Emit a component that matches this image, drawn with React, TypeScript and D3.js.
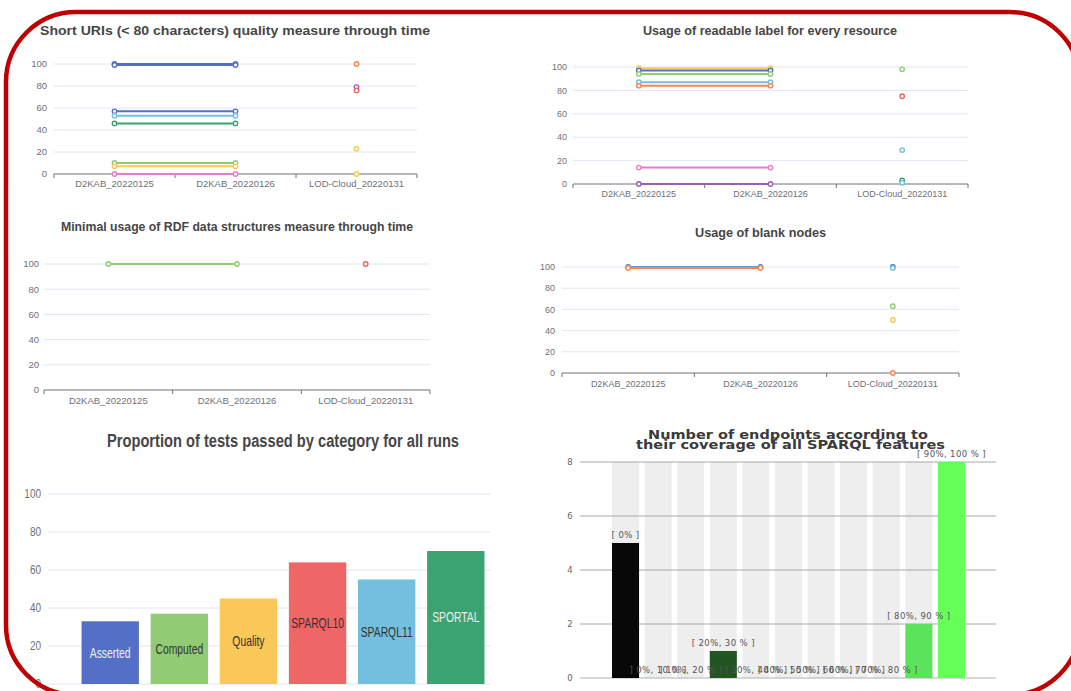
import React from 'react';
import * as d3 from 'd3';

const PALETTE = ['#5470c6', '#91cc75', '#fac858', '#ee6666', '#73c0de', '#3ba272', '#fc8452', '#9a60b4', '#ea7ccc'];

const runs = ['D2KAB_20220125', 'D2KAB_20220126', 'LOD-Cloud_20220131'];
const percentTicks = [0, 20, 40, 60, 80, 100];

// Panel 1: Short URIs
const shortUriValues: (number | null)[][] = [
  [100, 100, null], [99, 99, null], [57, 57, null], [53, 53, null], [46, 46, null],
  [10, 10, null], [7, 7, null], [0, 0, null],
  [null, null, 100], [null, null, 79], [null, null, 76], [null, null, 23], [null, null, 0],
];
const shortUriColors = [0, 0, 0, 4, 5, 1, 2, 8, 6, 7, 3, 2, 2];

// Panel 2: readable labels
const labelValues: (number | null)[][] = [
  [99, 99, null], [97, 97, null], [94, 94, null], [87, 87, null], [84, 84, null],
  [14, 14, null], [0, 0, null],
  [null, null, 98], [null, null, 75], [null, null, 29], [null, null, 3], [null, null, 1],
];
const labelColors = [2, 0, 1, 4, 6, 8, 7, 1, 3, 4, 5, 4];

// Panel 3: RDF data structures
const rdfValues: (number | null)[][] = [[100, 100, null], [null, null, 100]];
const rdfColors = [1, 3];

// Panel 4: blank nodes
const blankValues: (number | null)[][] = [
  [100, 100, null], [99.5, 99.5, null], [99, 99, null],
  [null, null, 100], [null, null, 99], [null, null, 63], [null, null, 50], [null, null, 0],
];
const blankColors = [0, 4, 6, 0, 4, 1, 2, 6];

// Panel 5: tests by category
const categories = ['Asserted', 'Computed', 'Quality', 'SPARQL10', 'SPARQL11', 'SPORTAL'];
const categoryValues = [33, 37, 45, 64, 55, 70];
const categoryLabelColors = ['#eeeeee', '#333333', '#333333', '#333333', '#333333', '#eeeeee'];

// Panel 6: coverage
const coverageBins = ['[ 0% ]', '] 0%, 10 % ]', '] 10%, 20 % ]', '[ 20%, 30 % ]', '] 30%, 40 % ]', '] 40%, 50 % ]',
  '] 50%, 60 % ]', '] 60%, 70 % ]', '] 70%, 80 % ]', '[ 80%, 90 % ]', '[ 90%, 100 % ]'];
const coverageCounts = [5, 0, 0, 1, 0, 0, 0, 0, 0, 2, 8];
const coverageColors = ['#080808', '#0e1a0e', '#183418', '#225522', '#2a6a2a', '#328032', '#3a963a', '#42ac42', '#4ac24a', '#5be35b', '#66ff5a'];
const coverageTicks = [0, 2, 4, 6, 8];

type Layout = {
  x0: number; x1: number; yTop: number; yBottom: number;
  titleX: number; titleY: number; titleSize: number; titleLen: number;
  yLabelX: number; xLabelY: number; yFont: number; xFont: number;
};

function LineChart({ title, layout, values, colors }: { title: string; layout: Layout; values: (number | null)[][]; colors: number[] }) {
  const L = layout;
  const x = d3.scaleBand<string>().domain(runs).range([L.x0, L.x1]);
  const y = d3.scaleLinear().domain([0, 100]).range([L.yBottom, L.yTop]);
  const cx = (i: number) => (x(runs[i]) as number) + x.bandwidth() / 2;
  const line = d3.line<number | null>()
    .defined(d => d != null)
    .x((_d, i) => cx(i))
    .y(d => y(d as number));
  const tickXs = [...runs.map(r => x(r) as number), L.x1];
  return (
    <g>
      <text x={L.titleX} y={L.titleY} textAnchor="middle" fontWeight="bold" fontSize={L.titleSize} fill="#464646"
        textLength={L.titleLen} lengthAdjust="spacingAndGlyphs">{title}</text>
      {percentTicks.map(t => (
        <g key={t}>
          {t > 0 && <line x1={L.x0} x2={L.x1} y1={y(t)} y2={y(t)} stroke="#e0e6f1" strokeWidth={1} />}
          <text x={L.yLabelX} y={y(t)} dy="0.35em" textAnchor="end" fontSize={L.yFont} fill="#6e7079">{t}</text>
        </g>
      ))}
      <line x1={L.x0} x2={L.x1} y1={L.yBottom} y2={L.yBottom} stroke="#6e7079" strokeWidth={1} />
      {tickXs.map((tx, i) => (
        <line key={i} x1={tx} x2={tx} y1={L.yBottom} y2={L.yBottom + 4} stroke="#6e7079" strokeWidth={1} />
      ))}
      {runs.map((r, i) => (
        <text key={r} x={cx(i)} y={L.xLabelY} textAnchor="middle" fontSize={L.xFont} fill="#6e7079">{r}</text>
      ))}
      {values.map((v, si) => (
        <path key={'l' + si} d={line(v) || ''} fill="none" stroke={PALETTE[colors[si]]} strokeWidth={2} />
      ))}
      {values.map((v, si) => v.map((d, i) => d == null ? null : (
        <circle key={'c' + si + '_' + i} cx={cx(i)} cy={y(d)} r={2.2} fill="#fff" stroke={PALETTE[colors[si]]} strokeWidth={1.4} />
      )))}
    </g>
  );
}

function CategoryBars() {
  const y = d3.scaleLinear().domain([0, 100]).range([684, 494]);
  const x = d3.scaleBand<string>().domain(categories).range([76, 490]).paddingInner(0.17).paddingOuter(0.08);
  return (
    <g>
      <text x={283} y={447} textAnchor="middle" fontWeight="bold" fontSize={18} fill="#464646"
        textLength={352} lengthAdjust="spacingAndGlyphs">Proportion of tests passed by category for all runs</text>
      {percentTicks.map(t => (
        <g key={t}>
          <line x1={48} x2={490} y1={y(t)} y2={y(t)} stroke="#e0e6f1" strokeWidth={1} />
          <text transform={`translate(41,${y(t)}) scale(0.8,1)`} dy="0.35em" textAnchor="end" fontSize={12.5} fill="#6e7079">{t}</text>
        </g>
      ))}
      {categories.map((c, i) => (
        <g key={c}>
          <rect x={x(c)} y={y(categoryValues[i])} width={x.bandwidth()} height={y(0) - y(categoryValues[i])} fill={PALETTE[i]} />
          <text transform={`translate(${(x(c) as number) + x.bandwidth() / 2},${(y(categoryValues[i]) + y(0)) / 2}) scale(0.74,1)`}
            dy="0.35em" textAnchor="middle" fontSize={14} fill={categoryLabelColors[i]}>{c}</text>
        </g>
      ))}
    </g>
  );
}

function CoverageBars() {
  const y = d3.scaleLinear().domain([0, 8]).range([678, 462]);
  const x = d3.scaleBand<string>().domain(coverageBins).range([612, 965]).paddingInner(0.17).paddingOuter(0);
  return (
    <g fontFamily="'DejaVu Sans', sans-serif">
      <text x={788} y={439} textAnchor="middle" fontWeight="bold" fontSize={12.5} fill="#3a3a3a"
        textLength={280} lengthAdjust="spacingAndGlyphs">Number of endpoints according to</text>
      <text x={790.5} y={449} textAnchor="middle" fontWeight="bold" fontSize={12.5} fill="#3a3a3a"
        textLength={309} lengthAdjust="spacingAndGlyphs">their coverage of all SPARQL features</text>
      {coverageBins.map(b => (
        <rect key={'bg' + b} x={x(b)} y={y(8)} width={x.bandwidth()} height={y(0) - y(8)} fill="#eeeeee" />
      ))}
      {coverageTicks.map(t => (
        <g key={t}>
          <line x1={580} x2={996} y1={y(t)} y2={y(t)} stroke={t === 0 ? '#b0b0b0' : '#a8a8a8'} strokeWidth={1} />
          <text x={570} y={y(t)} dy="0.35em" textAnchor="middle" fontSize={8.5} fill="#666">{t}</text>
        </g>
      ))}
      {coverageBins.map((b, i) => (
        <rect key={'b' + b} x={x(b)} y={y(coverageCounts[i])} width={x.bandwidth()} height={y(0) - y(coverageCounts[i])} fill={coverageColors[i]} />
      ))}
      {coverageBins.map((b, i) => (
        <text key={'t' + b} x={(x(b) as number) + x.bandwidth() / 2} y={y(coverageCounts[i]) - 5} textAnchor="middle"
          fontSize={8.5} fill="#555" letterSpacing={0.4}>{b}</text>
      ))}
    </g>
  );
}

const layout1: Layout = { x0: 54, x1: 417, yTop: 64, yBottom: 174, titleX: 235, titleY: 35, titleSize: 13, titleLen: 390, yLabelX: 47, xLabelY: 187, yFont: 9.5, xFont: 9.5 };
const layout2: Layout = { x0: 573, x1: 968, yTop: 67, yBottom: 184, titleX: 770, titleY: 35, titleSize: 13, titleLen: 254, yLabelX: 567, xLabelY: 197, yFont: 9, xFont: 9 };
const layout3: Layout = { x0: 44, x1: 430, yTop: 264, yBottom: 390, titleX: 237, titleY: 231, titleSize: 13.5, titleLen: 352, yLabelX: 39, xLabelY: 404, yFont: 9.5, xFont: 9.5 };
const layout4: Layout = { x0: 562, x1: 959, yTop: 267, yBottom: 373, titleX: 760.5, titleY: 237, titleSize: 13, titleLen: 131, yLabelX: 555, xLabelY: 387, yFont: 9, xFont: 9 };

export default function App() {
  return (
    <svg width={1071} height={691} style={{ position: 'absolute', left: 0, top: 0, background: '#fff' }}
      fontFamily="'Liberation Sans', Arial, sans-serif">
      <rect x={0} y={0} width={1071} height={691} fill="#fff" />
      <LineChart title="Short URIs (< 80 characters) quality measure through time" layout={layout1} values={shortUriValues} colors={shortUriColors} />
      <LineChart title="Usage of readable label for every resource" layout={layout2} values={labelValues} colors={labelColors} />
      <LineChart title="Minimal usage of RDF data structures measure through time" layout={layout3} values={rdfValues} colors={rdfColors} />
      <LineChart title="Usage of blank nodes" layout={layout4} values={blankValues} colors={blankColors} />
      <CategoryBars />
      <CoverageBars />
      <rect x={6} y={12} width={1074} height={683} rx={70} ry={70} fill="none" stroke="#c00000" strokeWidth={4.5} />
    </svg>
  );
}
